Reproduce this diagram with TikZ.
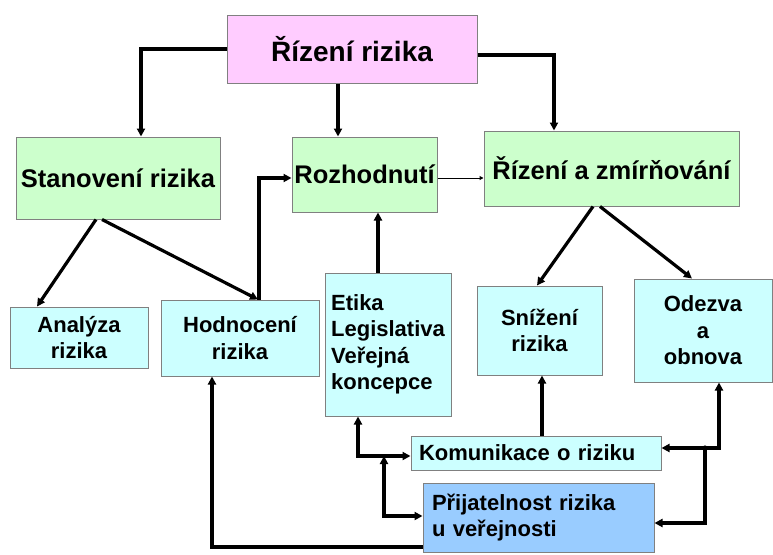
\documentclass[tikz,border=0pt]{standalone}
\usepackage{fontspec}
\setmainfont{Liberation Sans}
\usetikzlibrary{arrows.meta}
\definecolor{pinkbox}{RGB}{255,204,255}
\definecolor{greenbox}{RGB}{204,255,204}
\definecolor{cyanbox}{RGB}{204,255,255}
\definecolor{bluebox}{RGB}{153,204,255}
\definecolor{boxline}{RGB}{128,128,128}

\begin{document}
\begin{tikzpicture}[x=1pt,y=-1pt,>={Triangle[length=8pt,width=8pt]},line width=3.2pt,
  box/.style={draw=boxline,line width=1pt,inner sep=0pt,align=center,fill=cyanbox,
    font=\bfseries\fontsize{22}{26.5}\selectfont},
  big node/.style={box,fill=greenbox,font=\bfseries\fontsize{25.5}{30}\selectfont}]
  \useasboundingbox (0,0) rectangle (773,554);

  \node[big node,fill=pinkbox,minimum width=250pt,minimum height=68pt,
    font=\bfseries\fontsize{28}{32}\selectfont] (1) at (352,49) {Řízení rizika};
  \node[big node,minimum width=204pt,minimum height=82pt] (2) at (118,178) {Stanovení rizika};
  \node[big node,minimum width=145pt,minimum height=75pt] (3) at (364.5,174.5) {Rozhodnutí};
  \node[big node,minimum width=255pt,minimum height=75pt] (4) at (611.5,168.5) {Řízení a zmírňování};

  %2
  \node[box,minimum width=138pt,minimum height=61pt] (5) at (79,337.5) {Analýza\\rizika};
  \node[box,minimum width=158pt,minimum height=76pt] (6) at (240,338) {Hodnocení\\rizika};
  %3
  \node[box,align=left,minimum width=126pt,minimum height=143pt] (7) at (388,344.5)
    {Etika\\Legislativa\\Veřejná\\koncepce};
  %4
  \node[box,minimum width=125pt,minimum height=89pt] (8) at (539.5,330.5) {Snížení\\rizika};
  \node[box,minimum width=138pt,minimum height=103pt] (9) at (703,330.5) {Odezva\\a\\obnova};

  \node[box,align=left,inner xsep=8pt,text width=234pt,minimum height=34pt]
    (10) at (536,453) {Komunikace o riziku};
  \node[box,fill=bluebox,align=left,inner xsep=9pt,text width=213pt,minimum height=69pt]
    (11) at (538.5,517.5) {Přijatelnost rizika\\u veřejnosti};

  \coordinate (jr) at (705,448);
  \coordinate (jo) at (719,448);
  \coordinate (jl) at (384,456);

  \draw[->] (1.west) -| ([xshift=23pt]2.north);
  \draw[->] ([xshift=-14pt]1.south) -- ([xshift=-14pt]1.south |- 3.north);
  \draw[->] ([yshift=-6pt]1.east) -| ([xshift=-57.5pt]4.north);
  \path[->]
    ([xshift=-22pt]2.south) edge ([xshift=-42pt]5.north)
    ([xshift=-16pt]2.south) edge ([xshift=18pt]6.north)
    ([xshift=-18.5pt]4.south) edge ([xshift=-2.5pt]8.north)
    ([xshift=-11.5pt]4.south) edge ([xshift=-11pt]9.north);
  \draw[->] ([xshift=19pt]6.north) |- ([yshift=-3.5pt]3.west);
  \draw[->,line width=1pt,>={Triangle[length=4pt,width=4pt]}]
    ([yshift=-3.5pt]3.east) -- ([yshift=-3.5pt]3.east -| 4.west);
  \draw[->] ([xshift=-10pt]7.north) -- ([xshift=-10pt]7.north |- 3.south);
  \draw[->] ([xshift=6pt]10.north) -- ([xshift=6pt]10.north |- 8.south);

  %right
  \draw[->] (jr) -- (jr -| 10.east);
  \draw[->] (jr) -- (jo) -- (jo |- 9.south);
  \draw[->] (jr) |- ([yshift=-5.5pt]11.east);
  \fill (jr) circle (2.6pt);

  %left
  \draw[<->] ([xshift=-30pt]7.south) |- ([yshift=-3pt]10.west);
  \draw[<->] (jl) |- ([yshift=1.5pt]11.west);
  \draw[->] ([yshift=-29.5pt]11.west) -| ([xshift=-28pt]6.south);
\end{tikzpicture}
\end{document}
